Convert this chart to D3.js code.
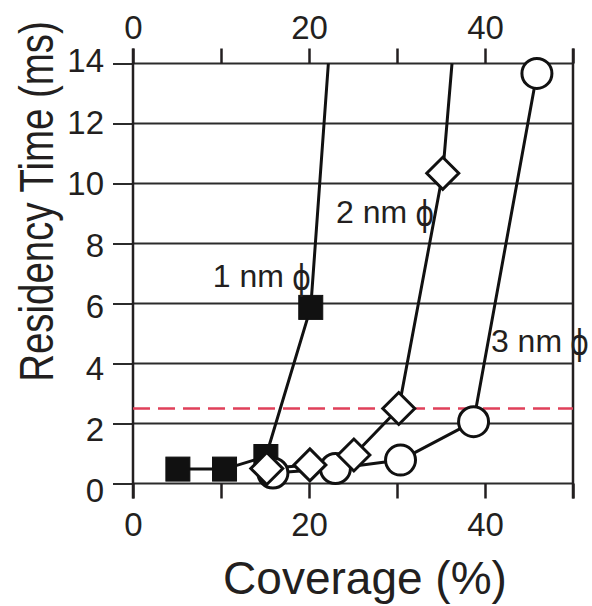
<!DOCTYPE html>
<html>
<head>
<meta charset="utf-8">
<script src="https://cdn.jsdelivr.net/npm/d3@7"></script>
<style>
  html, body { margin: 0; padding: 0; background: #fff; }
  svg { display: block; }
  text { font-family: "Liberation Sans", Arial, Helvetica, sans-serif; fill: #231f20; }
</style>
</head>
<body>
<svg id="chart" width="592" height="606"></svg>
<script>
// ---- data ----
const xTicks = [0, 10, 20, 30, 40, 50];
const xTickLabels = ["0", "", "20", "", "40", ""];
const yTicks = [0, 2, 4, 6, 8, 10, 12, 14];
const yTickLabels = ["0", "2", "4", "6", "8", "10", "12", "14"];

// 1 nm phi (filled squares)
const cov1nm = [5.1, 10.4, 15.1, 20.2];
const time1nm = [0.48, 0.48, 0.9, 5.87];
const tail1nm = [22.2, 14];        // line leaves the top of the frame

// 2 nm phi (open diamonds)
const cov2nm = [15.2, 20.1, 25.1, 30.2, 35.2];
const time2nm = [0.5, 0.62, 0.95, 2.5, 10.34];
const tail2nm = [36.25, 14];

// 3 nm phi (open circles)
const cov3nm = [15.9, 23.0, 30.4, 38.7, 45.9];
const time3nm = [0.35, 0.5, 0.78, 2.06, 13.67];

const thresholdTime = 2.5;   // red dashed reference

const seriesLabels = ["1 nm", "2 nm", "3 nm"];
const labelCov = [9.3, 23.3, 40.9];
const labelTime = [6.56, 8.68, 4.39];

// ---- layout ----
const svg = d3.select("#chart");
const x = d3.scaleLinear().domain([0, 50]).range([133, 573]);
const y = d3.scaleLinear().domain([0, 14]).range([483.5, 63.5]);
const yLabel = d3.scaleLinear().domain([0, 14]).range([490, 60]);
const ink = "#231f20";

// horizontal grid lines
svg.append("g").selectAll("line").data(yTicks).join("line")
  .attr("x1", x(0)).attr("x2", x(50))
  .attr("y1", d => y(d)).attr("y2", d => y(d))
  .attr("stroke", "#2b2b2b").attr("stroke-width", 2);

// left axis (outward ticks + labels)
const gl = svg.append("g").attr("transform", `translate(${x(0)},0)`)
  .call(d3.axisLeft(y).tickValues(yTicks).tickSize(20).tickPadding(9)
    .tickFormat((d, i) => yTickLabels[i]));
gl.select(".domain").remove();
gl.selectAll(".tick line").attr("stroke", "#2b2b2b").attr("stroke-width", 2);
gl.selectAll(".tick text")
  .attr("y", d => yLabel(d) - y(d))
  .attr("dy", "0.36em")
  .style("font-size", "33px").style("font-family", "Liberation Sans, Arial, sans-serif")
  .attr("fill", ink);

// bottom axis
const gb = svg.append("g").attr("transform", `translate(0,${y(0)})`)
  .call(d3.axisBottom(x).tickValues(xTicks).tickSize(15).tickPadding(14)
    .tickFormat((d, i) => xTickLabels[i]));
gb.select(".domain").remove();
gb.selectAll(".tick line").attr("stroke", ink).attr("stroke-width", 2.5);
gb.selectAll(".tick text").style("font-size", "33px")
  .style("font-family", "Liberation Sans, Arial, sans-serif").attr("fill", ink);

// top axis
const gt = svg.append("g").attr("transform", `translate(0,${y(14)})`)
  .call(d3.axisTop(x).tickValues(xTicks).tickSize(15).tickPadding(10)
    .tickFormat((d, i) => xTickLabels[i]));
gt.select(".domain").remove();
gt.selectAll(".tick line").attr("stroke", ink).attr("stroke-width", 2.5);
gt.selectAll(".tick text").style("font-size", "33px")
  .style("font-family", "Liberation Sans, Arial, sans-serif").attr("fill", ink);

// vertical frame lines (extend to tick length above and below)
svg.append("g").selectAll("line").data([0, 50]).join("line")
  .attr("x1", d => x(d)).attr("x2", d => x(d))
  .attr("y1", y(14) - 15).attr("y2", y(0) + 15)
  .attr("stroke", ink).attr("stroke-width", 2.5);

// red dashed threshold
svg.append("line")
  .attr("x1", x(0)).attr("x2", x(50))
  .attr("y1", y(thresholdTime)).attr("y2", y(thresholdTime))
  .attr("stroke", "#e0405a").attr("stroke-width", 2.5)
  .attr("stroke-dasharray", "17,8");

// series lines
const line = d3.line().x(d => x(d[0])).y(d => y(d[1]));
const pts1 = cov1nm.map((c, i) => [c, time1nm[i]]);
const pts2 = cov2nm.map((c, i) => [c, time2nm[i]]);
const pts3 = cov3nm.map((c, i) => [c, time3nm[i]]);
const lines = [pts1.concat([tail1nm]), pts2.concat([tail2nm]), pts3];
svg.append("g").selectAll("path").data(lines).join("path")
  .attr("d", line).attr("fill", "none")
  .attr("stroke", "#111").attr("stroke-width", 3).attr("stroke-linejoin", "round");

// markers: squares, circles, diamonds
svg.append("g").selectAll("rect").data(pts1).join("rect")
  .attr("x", d => x(d[0]) - 12).attr("y", d => y(d[1]) - 12)
  .attr("width", 24).attr("height", 24)
  .attr("fill", "#111").attr("stroke", "#111").attr("stroke-width", 1);

svg.append("g").selectAll("circle").data(pts3).join("circle")
  .attr("cx", d => x(d[0])).attr("cy", d => y(d[1])).attr("r", 15)
  .attr("fill", "#fff").attr("stroke", "#111").attr("stroke-width", 3);

const dh = 16;
svg.append("g").selectAll("path").data(pts2).join("path")
  .attr("d", d => {
    const cx = x(d[0]), cy = y(d[1]);
    return `M${cx},${cy - dh}L${cx + dh},${cy}L${cx},${cy + dh}L${cx - dh},${cy}Z`;
  })
  .attr("fill", "#fff").attr("stroke", "#111").attr("stroke-width", 3)
  .attr("stroke-linejoin", "miter");

// series annotations (text + tall narrow phi)
const labG = svg.append("g");
seriesLabels.forEach((s, i) => {
  const t = labG.append("text")
    .attr("x", x(labelCov[i]) - 2)
    .attr("y", y(labelTime[i]))
    .style("font-size", "32px")
    .text(s);
  const w = t.node().getComputedTextLength();
  labG.append("text")
    .attr("transform", `translate(${x(labelCov[i]) - 2 + w + 8},${y(labelTime[i]) + 3}) scale(0.8,1)`)
    .style("font-family", "DejaVu Sans, sans-serif")
    .style("font-size", "36px")
    .text("\u03D5");
});

// axis titles
svg.append("text")
  .attr("x", 365).attr("y", 594)
  .attr("text-anchor", "middle")
  .style("font-size", "46px")
  .text("Coverage (%)");

svg.append("text")
  .attr("transform", "translate(53,201.5) rotate(-90) scale(0.8,1)")
  .attr("text-anchor", "middle")
  .style("font-size", "48px")
  .text("Residency Time (ms)");
</script>
</body>
</html>
